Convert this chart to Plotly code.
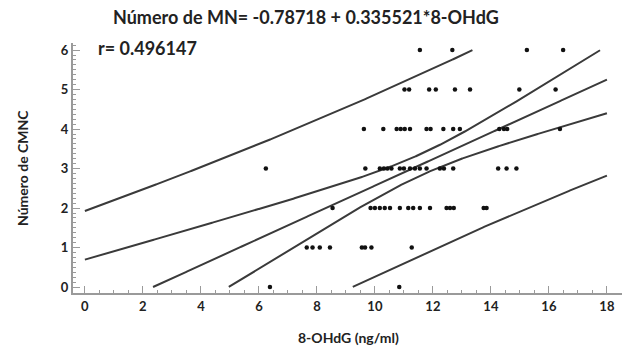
import numpy as np
import plotly.graph_objects as go

# ---- data (x = 8-OHdG, grouped by y = Número de CMNC) ----
x_y0 = [6.38, 10.84]
x_y1 = [7.65, 7.85, 8.10, 8.45, 9.55, 9.66, 9.88, 11.27]
x_y2 = [8.54, 9.85, 10.00, 10.17, 10.34, 10.52, 10.86, 11.15, 11.32, 11.55,
        11.90, 12.47, 12.59, 12.72, 13.75, 13.85]
x_y3 = [6.24, 9.67, 10.17, 10.31, 10.43, 10.57, 10.86, 11.00, 11.21, 11.38,
        11.55, 11.78, 12.24, 12.38, 12.70, 14.25, 14.54, 14.88]
x_y4 = [9.62, 10.29, 10.75, 10.89, 11.03, 11.21, 11.78, 11.92, 12.36, 12.70,
        12.93, 14.29, 14.45, 14.56, 16.38]
x_y5 = [11.02, 11.18, 11.87, 12.10, 12.76, 13.28, 14.98, 16.23]
x_y6 = [11.55, 12.67, 15.24, 16.49]
groups = [x_y0, x_y1, x_y2, x_y3, x_y4, x_y5, x_y6]

intercept = -0.78718
slope = 0.335521
r_value = 0.496147
t_crit = 1.995
std_err_est = 1.14   # residual standard error, estimated from the band widths

x_ticks = list(range(0, 19, 2))
y_ticks = list(range(0, 7))

title_text = "Número de MN= -0.78718 + 0.335521*8-OHdG"
r_text = "r= 0.496147"
x_title = "8-OHdG (ng/ml)"
y_title = "Número de CMNC"

# ---- derived statistics ----
xs_all = np.concatenate([np.array(g, float) for g in groups])
ys_all = np.concatenate([np.full(len(g), float(k)) for k, g in enumerate(groups)])
n = len(xs_all)
xbar = xs_all.mean()
sxx = ((xs_all - xbar) ** 2).sum()

grid = np.linspace(0, 18, 1441)
yhat = intercept + slope * grid
conf = t_crit * std_err_est * np.sqrt(1.0 / n + (grid - xbar) ** 2 / sxx)
pred = t_crit * std_err_est * np.sqrt(1.0 + 1.0 / n + (grid - xbar) ** 2 / sxx)


def clip(v):
    v = np.array(v, float)
    v[(v < 0) | (v > 6)] = np.nan
    return v


line_color = "#3a3a3a"
fig = go.Figure()
for curve in [yhat, yhat + conf, yhat - conf, yhat + pred, yhat - pred]:
    fig.add_trace(go.Scatter(x=grid, y=clip(curve), mode="lines",
                             line=dict(color=line_color, width=2),
                             connectgaps=False, hoverinfo="skip",
                             showlegend=False))

fig.add_trace(go.Scatter(x=xs_all, y=ys_all, mode="markers",
                         marker=dict(color="#111111", size=4.5),
                         showlegend=False))

axis_col = "#9a9a9a"
tick_font = dict(family="Lato", size=13, color="#222222", weight="bold")
fig.update_layout(
    width=628, height=356,
    margin=dict(l=73, r=6, t=43, b=63),
    paper_bgcolor="white", plot_bgcolor="white",
    font=dict(family="Lato", color="#222222"),
    xaxis=dict(range=[-0.41, 18.52], tickvals=x_ticks, ticks="inside",
               ticklen=7, tickwidth=1, tickcolor=axis_col,
               minor=dict(dtick=0.5, ticks="inside", ticklen=3,
                          tickcolor=axis_col, tickwidth=1),
               showline=True, linecolor=axis_col, linewidth=2,
               showgrid=False, zeroline=False, tickfont=tick_font),
    yaxis=dict(range=[-0.15, 6.18], tickvals=y_ticks, ticks="inside",
               ticklen=7, tickwidth=1, tickcolor=axis_col,
               minor=dict(dtick=0.125, ticks="inside", ticklen=3,
                          tickcolor=axis_col, tickwidth=1),
               showline=True, linecolor=axis_col, linewidth=2,
               showgrid=False, zeroline=False, tickfont=tick_font),
)

fig.add_annotation(text=title_text, xref="paper", yref="paper",
                   x=0.4244, y=1.104, xanchor="center", yanchor="middle",
                   showarrow=False,
                   font=dict(family="Lato", size=18, color="#222222", weight="bold"))
fig.add_annotation(text=r_text, xref="paper", yref="paper",
                   x=0.0419, y=0.98, xanchor="left", yanchor="middle",
                   showarrow=False,
                   font=dict(family="Lato", size=18, color="#222222", weight="bold"))
fig.add_annotation(text=x_title, xref="paper", yref="paper",
                   x=0.501, y=-0.176, xanchor="center", yanchor="middle",
                   showarrow=False,
                   font=dict(family="Lato", size=14, color="#222222", weight="bold"))
fig.add_annotation(text=y_title, xref="paper", yref="paper",
                   x=-0.0929, y=0.5, xanchor="center", yanchor="middle",
                   textangle=-90, showarrow=False,
                   font=dict(family="Lato", size=14, color="#222222", weight="bold"))

fig.write_html("out.html")
